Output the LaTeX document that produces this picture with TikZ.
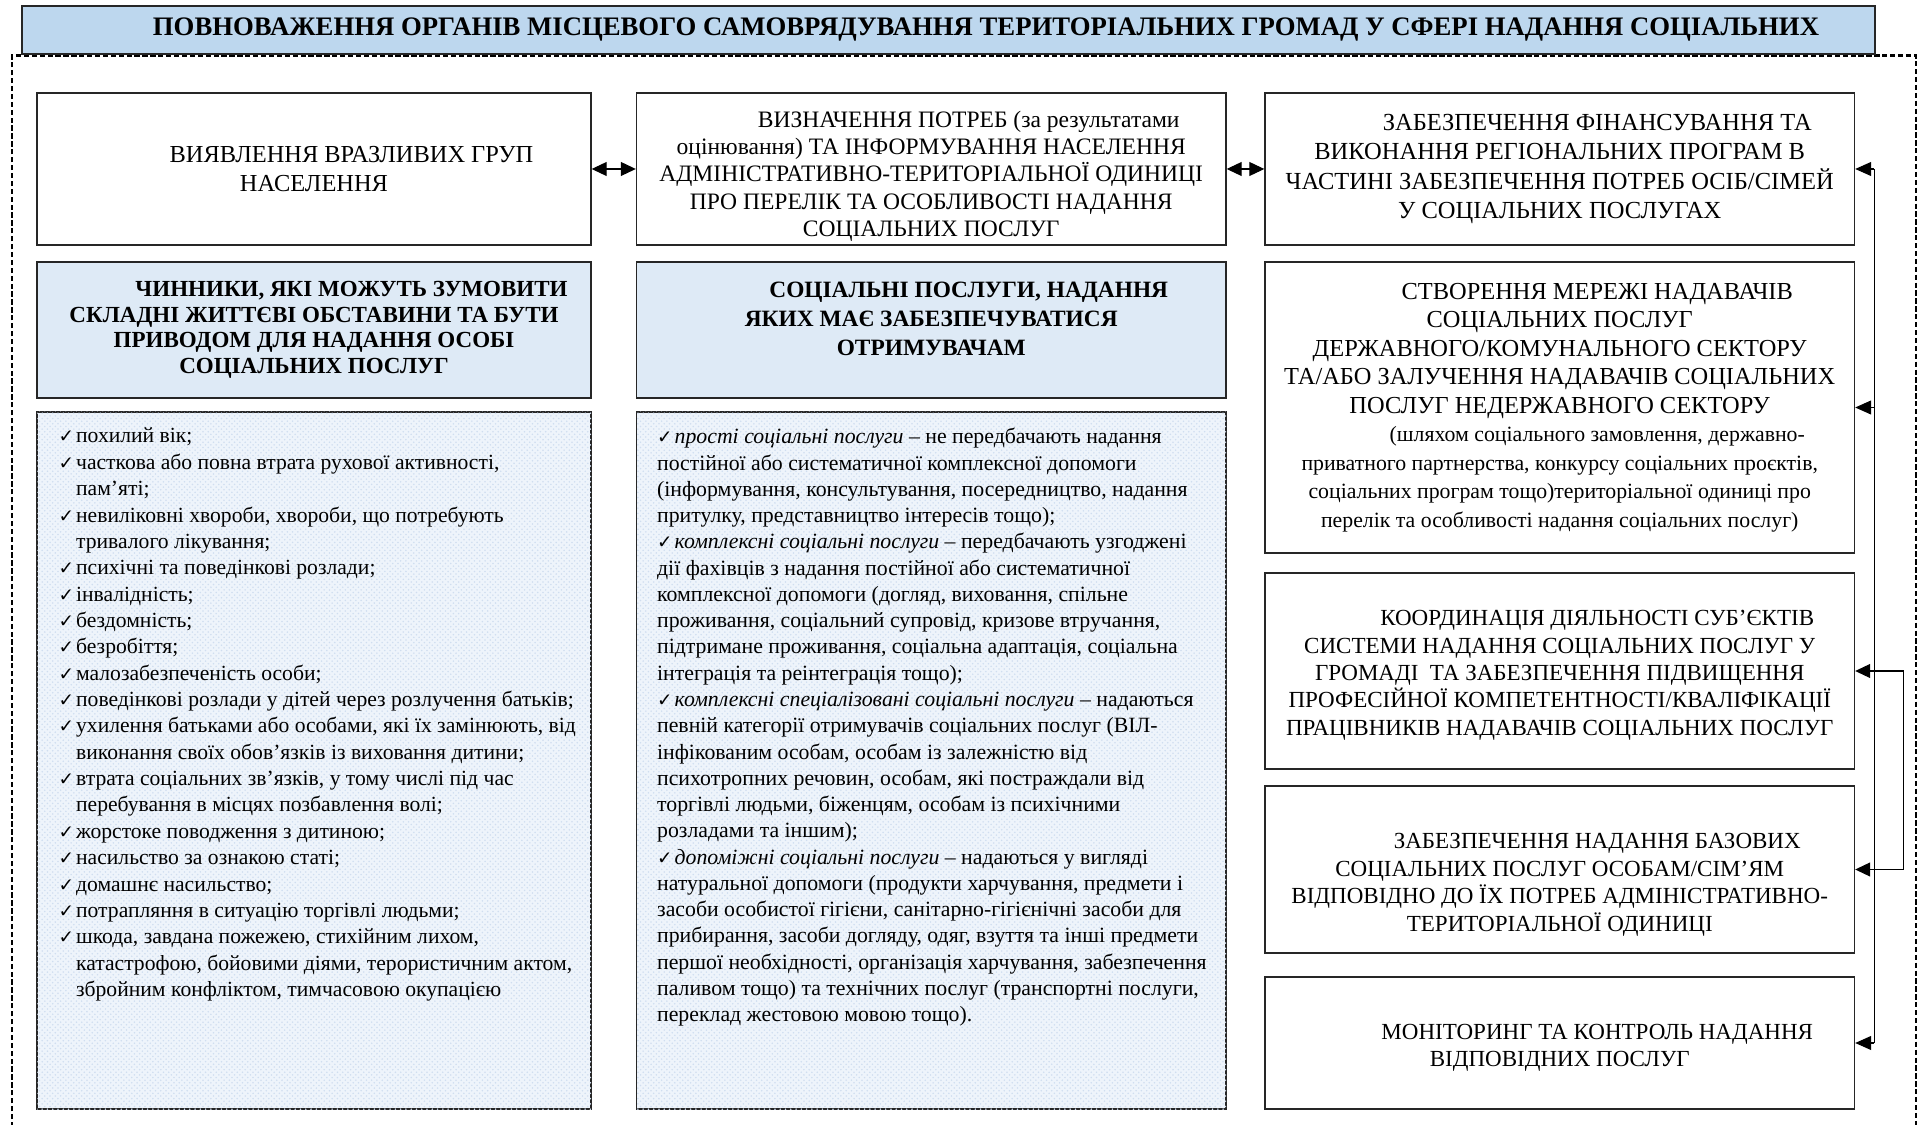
\documentclass[tikz,border=0pt]{standalone}
\usepackage{fontspec}
\setmainfont{Liberation Serif}
\newfontfamily\chkfont{DejaVu Sans}
\usepackage{tikz}
\usetikzlibrary{calc,positioning,arrows.meta,patterns}

\definecolor{titleblue}{RGB}{189,215,238}
\definecolor{headblue}{RGB}{222,234,246}
\definecolor{listblue}{RGB}{238,244,251}
\definecolor{listdots}{RGB}{208,222,240}

\newcommand{\ind}{\hspace*{1.5cm}}
\newcommand{\cont}{\hspace*{.35cm}}
\newcommand{\chk}{\makebox[.35cm][l]{\chkfont\fontsize{10.5}{10.5}\selectfont ✓}}
\newcommand{\sm}{\fontsize{12.4}{16.2}\selectfont}

\begin{document}
\begin{tikzpicture}[
  box/.style={rectangle,draw=black!85,line width=.8pt,inner sep=0pt,align=center,
    font=\fontsize{13.1}{15.6}\selectfont},
  bigtext/.style={font=\fontsize{13.9}{16.4}\selectfont},
  head/.style={box,fill=headblue,font=\bfseries\fontsize{13.1}{14.6}\selectfont},
  listbox/.style={rectangle,draw=black!85,line width=.8pt,fill=listblue,
    postaction={pattern=crosshatch dots,pattern color=listdots}},
  listtext/.style={anchor=north west,inner sep=0pt,align=left,
    font=\fontsize{12.3}{15}\selectfont},
  arr/.style={-{Triangle[length=.32cm,width=.28cm]},line width=.6pt},
  dbl/.style={{Triangle[length=.3cm,width=.28cm]}-{Triangle[length=.3cm,width=.28cm]},line width=.6pt},
  dashframe/.style={line width=1.2pt,dash pattern=on 3pt off 1.5pt},
  ]

  \useasboundingbox (0,0) rectangle (38.38,-22.5);

  % dashed frame, open at the bottom
  \coordinate (frame_top_right) at (38.32,-1.11);
  \coordinate (frame_bottom_left) at (.24,-22.7);
  \coordinate (frame_bottom_right) at (38.32,-22.7);
  \draw[dashframe] (frame_bottom_left) |- (frame_top_right) -- (frame_bottom_right);

  \node (title) [box,fill=titleblue,minimum width=37.06cm,minimum height=.96cm,
    font=\bfseries\fontsize{15.2}{18}\selectfont] at (18.97,-.6)
    {\ind ПОВНОВАЖЕННЯ ОРГАНІВ МІСЦЕВОГО САМОВРЯДУВАННЯ ТЕРИТОРІАЛЬНИХ ГРОМАД У СФЕРІ НАДАННЯ СОЦІАЛЬНИХ};

  % top row
  \node (find) [box,bigtext,minimum width=11.08cm,minimum height=3.04cm] at (6.28,-3.38)
    {\ind ВИЯВЛЕННЯ ВРАЗЛИВИХ ГРУП\\НАСЕЛЕННЯ};
  \node (needs) [box,font=\fontsize{13.4}{15.6}\selectfont,text height=80pt,
    minimum width=11.79cm,minimum height=3.04cm] at (18.625,-3.38)
    {\ind ВИЗНАЧЕННЯ ПОТРЕБ (за результатами\\оцінювання) ТА ІНФОРМУВАННЯ НАСЕЛЕННЯ\\
     АДМІНІСТРАТИВНО-ТЕРИТОРІАЛЬНОЇ ОДИНИЦІ\\ПРО ПЕРЕЛІК ТА ОСОБЛИВОСТІ НАДАННЯ\\
     СОЦІАЛЬНИХ ПОСЛУГ};
  \node (finance) [box,font=\fontsize{13.95}{16.6}\selectfont,
    minimum width=11.79cm,minimum height=3.04cm] at (31.195,-3.38)
    {\ind ЗАБЕЗПЕЧЕННЯ ФІНАНСУВАННЯ ТА\\ВИКОНАННЯ РЕГІОНАЛЬНИХ ПРОГРАМ В\\
     ЧАСТИНІ ЗАБЕЗПЕЧЕННЯ ПОТРЕБ ОСІБ/СІМЕЙ\\У СОЦІАЛЬНИХ ПОСЛУГАХ};

  \draw[dbl] (find) -- (needs);
  \draw[dbl] (needs) -- (finance);

  % headers
  \node (factors_head) [head,minimum width=11.08cm,minimum height=2.72cm] at (6.28,-6.6)
    {\ind ЧИННИКИ, ЯКІ МОЖУТЬ ЗУМОВИТИ\\СКЛАДНІ ЖИТТЄВІ ОБСТАВИНИ ТА БУТИ\\
     ПРИВОДОМ ДЛЯ НАДАННЯ ОСОБІ\\СОЦІАЛЬНИХ ПОСЛУГ};
  \node (services_head) [head,font=\bfseries\fontsize{13.3}{16.3}\selectfont,text height=66pt,
    minimum width=11.79cm,minimum height=2.72cm] at (18.625,-6.6)
    {\ind СОЦІАЛЬНІ ПОСЛУГИ, НАДАННЯ\\ЯКИХ МАЄ ЗАБЕЗПЕЧУВАТИСЯ\\ОТРИМУВАЧАМ\\\strut};

  % lists
  \node (factors_box) [listbox,minimum width=11.08cm,minimum height=13.94cm] at (6.28,-15.21) {};
  \node (services_box) [listbox,minimum width=11.79cm,minimum height=13.94cm] at (18.625,-15.21) {};

  \node (factors_list) [listtext] at ($(factors_box.north west)+(.44,-.33)$)
    {\chk похилий вік;\\
     \chk часткова або повна втрата рухової активності,\\
     \cont пам’яті;\\
     \chk невиліковні хвороби, хвороби, що потребують\\
     \cont тривалого лікування;\\
     \chk психічні та поведінкові розлади;\\
     \chk інвалідність;\\
     \chk бездомність;\\
     \chk безробіття;\\
     \chk малозабезпеченість особи;\\
     \chk поведінкові розлади у дітей через розлучення батьків;\\
     \chk ухилення батьками або особами, які їх замінюють, від\\
     \cont виконання своїх обов’язків із виховання дитини;\\
     \chk втрата соціальних зв’язків, у тому числі під час\\
     \cont перебування в місцях позбавлення волі;\\
     \chk жорстоке поводження з дитиною;\\
     \chk насильство за ознакою статі;\\
     \chk домашнє насильство;\\
     \chk потрапляння в ситуацію торгівлі людьми;\\
     \chk шкода, завдана пожежею, стихійним лихом,\\
     \cont катастрофою, бойовими діями, терористичним актом,\\
     \cont збройним конфліктом, тимчасовою окупацією};

  \node (services_list) [listtext,font=\fontsize{12.4}{14.95}\selectfont]
    at ($(services_box.north west)+(.42,-.33)$)
    {\chk\textit{прості соціальні послуги} – не передбачають надання\\
     постійної або систематичної комплексної допомоги\\
     (інформування, консультування, посередництво, надання\\
     притулку, представництво інтересів тощо);\\
     \chk\textit{комплексні соціальні послуги} – передбачають узгоджені\\
     дії фахівців з надання постійної або систематичної\\
     комплексної допомоги (догляд, виховання, спільне\\
     проживання, соціальний супровід, кризове втручання,\\
     підтримане проживання, соціальна адаптація, соціальна\\
     інтеграція та реінтеграція тощо);\\
     \chk\textit{комплексні спеціалізовані соціальні послуги} – надаються\\
     певній категорії отримувачів соціальних послуг (ВІЛ-\\
     інфікованим особам, особам із залежністю від\\
     психотропних речовин, особам, які постраждали від\\
     торгівлі людьми, біженцям, особам із психічними\\
     розладами та іншим);\\
     \chk\textit{допоміжні соціальні послуги} – надаються у вигляді\\
     натуральної допомоги (продукти харчування, предмети і\\
     засоби особистої гігієни, санітарно-гігієнічні засоби для\\
     прибирання, засоби догляду, одяг, взуття та інші предмети\\
     першої необхідності, організація харчування, забезпечення\\
     паливом тощо) та технічних послуг (транспортні послуги,\\
     переклад жестовою мовою тощо).};

  % right column
  \node (network) [box,font=\fontsize{13.9}{16.2}\selectfont,
    minimum width=11.79cm,minimum height=5.82cm] at (31.195,-8.15)
    {\ind СТВОРЕННЯ МЕРЕЖІ НАДАВАЧІВ\\СОЦІАЛЬНИХ ПОСЛУГ\\
     ДЕРЖАВНОГО/КОМУНАЛЬНОГО СЕКТОРУ\\ТА/АБО ЗАЛУЧЕННЯ НАДАВАЧІВ СОЦІАЛЬНИХ\\
     ПОСЛУГ НЕДЕРЖАВНОГО СЕКТОРУ\\
     \sm\ind (шляхом соціального замовлення, державно-\\
     \sm приватного партнерства, конкурсу соціальних проєктів,\\
     \sm соціальних програм тощо)територіальної одиниці про\\
     \sm перелік та особливості надання соціальних послуг)};
  \node (coordination) [box,text height=76pt,minimum width=11.79cm,minimum height=3.92cm] at (31.195,-13.42)
    {\ind КООРДИНАЦІЯ ДІЯЛЬНОСТІ СУБ’ЄКТІВ\\СИСТЕМИ НАДАННЯ СОЦІАЛЬНИХ ПОСЛУГ У\\
     ГРОМАДІ \ ТА ЗАБЕЗПЕЧЕННЯ ПІДВИЩЕННЯ\\ПРОФЕСІЙНОЇ КОМПЕТЕНТНОСТІ/КВАЛІФІКАЦІЇ\\
     ПРАЦІВНИКІВ НАДАВАЧІВ СОЦІАЛЬНИХ ПОСЛУГ};
  \node (basic) [box,text height=73pt,minimum width=11.79cm,minimum height=3.34cm] at (31.195,-17.39)
    {\ind ЗАБЕЗПЕЧЕННЯ НАДАННЯ БАЗОВИХ\\СОЦІАЛЬНИХ ПОСЛУГ ОСОБАМ/СІМ’ЯМ\\
     ВІДПОВІДНО ДО ЇХ ПОТРЕБ АДМІНІСТРАТИВНО-\\ТЕРИТОРІАЛЬНОЇ ОДИНИЦІ};
  \node (monitoring) [box,text height=30pt,minimum width=11.79cm,minimum height=2.64cm] at (31.195,-20.86)
    {\ind МОНІТОРИНГ ТА КОНТРОЛЬ НАДАННЯ\\ВІДПОВІДНИХ ПОСЛУГ};

  \coordinate (bus) at ($(finance.east)+(.38,0)$);
  \coordinate (bracket) at ($(coordination.east)+(.96,0)$);
  \draw[line width=.6pt] (bus) -- (bus |- monitoring.east);
  \foreach \b in {finance,network,monitoring}
  {
    \draw[arr] (bus |- \b.east) -- (\b.east);
  }
  \draw[dbl] (coordination.east) -- (bracket) |- (basic.east);

\end{tikzpicture}
\end{document}
